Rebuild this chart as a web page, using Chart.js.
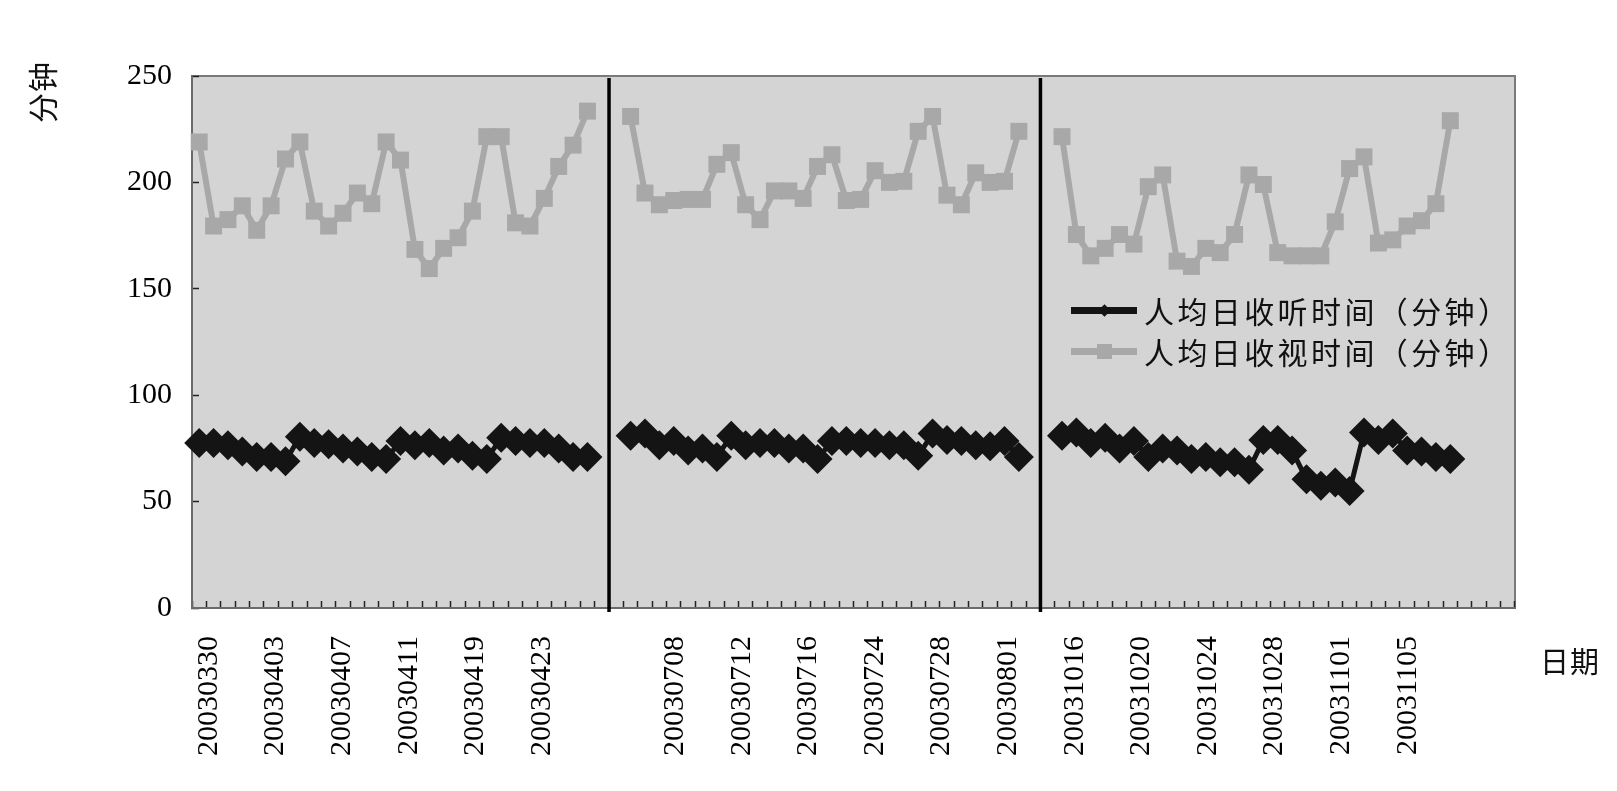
<!DOCTYPE html>
<html>
<head>
<meta charset="utf-8">
<script src="https://cdn.jsdelivr.net/npm/chart.js@4.4.1/dist/chart.umd.min.js"></script>
<style>
  body { margin: 0; background: #fff; }
  #wrap { position: relative; width: 1617px; height: 791px; }
  .cjk { position: absolute; font-family: "Noto Sans CJK SC", sans-serif; color: #111; white-space: nowrap; }
  #ytitle { left: 9px; top: 77px; width: 64px; height: 30px; line-height: 30px; font-size: 30px; text-align: center; letter-spacing: 1px; transform: rotate(-90deg); }
  #xtitle { left: 1540px; top: 642px; font-size: 29px; line-height: 36px; letter-spacing: 1px; }
  #legend { position: absolute; left: 1071px; top: 290px; }
  .lg-row { position: relative; height: 41px; width: 460px; }
  .lg-line { position: absolute; left: 0; top: 17px; width: 66px; height: 7px; }
  .lg-mark { position: absolute; left: 26px; top: 13px; width: 15px; height: 15px; }
  .lg-mark.rectRot { left: 29px; top: 16px; width: 9px; height: 9px; transform: rotate(45deg); }
  .lg-text { position: absolute; left: 73px; top: 0; line-height: 41px; font-size: 30px; letter-spacing: 3.4px; font-family: "Noto Sans CJK SC", sans-serif; color: #111; white-space: nowrap; }
</style>
</head>
<body>
<div id="wrap">
  <canvas id="chart" width="1617" height="791"></canvas>
  <div class="cjk" id="ytitle">分钟</div>
  <div class="cjk" id="xtitle">日期</div>
  <div id="legend"></div>
</div>
<script>
// three survey periods, 28 days each
const seg1Radio = [77.5, 77.5, 76.5, 73.5, 71, 71, 69, 80.5, 77.5, 77, 75, 73.5, 71, 70, 78.5, 76.5, 77.5, 74, 75, 71.5, 70, 80, 78.5, 77.5, 77.5, 75, 71, 71];
const seg1Tv    = [219, 179.5, 182.5, 189, 177.5, 189, 211, 219, 186.5, 179.5, 185.5, 195, 190, 219, 210.5, 168.5, 159.5, 169, 174, 186.5, 221.5, 221.5, 181, 179.5, 192.5, 207.5, 217.5, 233.5];
const seg2Radio = [81, 82, 76.5, 78.5, 74, 75, 71, 81, 76.5, 77.5, 77.5, 75, 75, 70, 78.5, 78.5, 77.5, 77.5, 76.5, 76.5, 71.5, 82, 79, 78.5, 76.5, 76, 78.5, 71];
const seg2Tv    = [231, 195, 189.5, 191.5, 192, 192, 208.5, 214, 189.5, 182.5, 196, 196, 192.5, 207.5, 213, 191.5, 192, 205.5, 200, 200.5, 224, 231, 194, 189.5, 204.5, 200, 200.5, 224];
const seg3Radio = [81, 82.5, 77.5, 80, 75, 78.5, 71, 75, 74, 70, 71, 68.5, 68.5, 65, 79, 79, 74, 60.5, 57.5, 59, 55, 82.5, 79, 82, 74, 73.5, 71, 70];
const seg3Tv    = [221.5, 175.5, 165.5, 169, 175.5, 171, 198, 203.5, 163, 160.5, 169, 167, 175.5, 203.5, 199, 167, 165.5, 165.5, 165.5, 181.5, 206.5, 212, 171.5, 173, 179.5, 182, 190, 229];

// category slots per period and empty slots before the first day
const segSlots = [29, 30, 33];
const segLead = [0, 1, 1];

const dateLabels = ['20030330', '20030403', '20030407', '20030411', '20030419', '20030423', '',
  '20030708', '20030712', '20030716', '20030724', '20030728', '20030801',
  '20031016', '20031020', '20031024', '20031028', '20031101', '20031105', ''];

const radioSegs = [seg1Radio, seg2Radio, seg3Radio];
const tvSegs = [seg1Tv, seg2Tv, seg3Tv];

const slotLabels = [], radio = [], tv = [], segStarts = [];
segSlots.forEach((n, s) => {
  segStarts.push(slotLabels.length);
  for (let i = 0; i < n; i++) {
    const k = i - segLead[s];
    slotLabels.push('s' + slotLabels.length);
    radio.push(k >= 0 && k < radioSegs[s].length ? radioSegs[s][k] : null);
    tv.push(k >= 0 && k < tvSegs[s].length ? tvSegs[s][k] : null);
  }
});

const numFont = { family: 'Liberation Serif', size: 30 };

const framePlugin = {
  id: 'frame',
  beforeDraw(chart) {
    const { ctx, chartArea: a } = chart;
    ctx.save();
    ctx.fillStyle = '#d4d4d4';
    ctx.fillRect(a.left, a.top, a.width, a.height);
    ctx.strokeStyle = '#7a7a7a';
    ctx.lineWidth = 2;
    ctx.strokeRect(a.left, a.top, a.width, a.height);
    ctx.restore();
  },
  beforeDatasetsDraw(chart) {
    const { ctx, chartArea: a } = chart;
    const x = chart.scales.x;
    ctx.save();
    ctx.strokeStyle = '#000';
    ctx.lineWidth = 3.5;
    segStarts.slice(1).forEach(i => {
      const px = (x.getPixelForValue(i - 1) + x.getPixelForValue(i)) / 2;
      ctx.beginPath();
      ctx.moveTo(px, a.top + 2);
      ctx.lineTo(px, a.bottom + 4);
      ctx.stroke();
    });
    ctx.restore();
  }
};

const chart = new Chart(document.getElementById('chart'), {
  type: 'line',
  data: {
    labels: slotLabels,
    datasets: [
      {
        label: '人均日收听时间（分钟）',
        data: radio,
        borderColor: '#141414',
        backgroundColor: '#141414',
        borderWidth: 5,
        pointStyle: 'rectRot',
        pointRadius: 15,
        pointBorderWidth: 0,
        pointBackgroundColor: '#141414'
      },
      {
        label: '人均日收视时间（分钟）',
        data: tv,
        borderColor: '#a8a8a8',
        backgroundColor: '#a8a8a8',
        borderWidth: 6,
        pointStyle: 'rect',
        pointRadius: 12,
        pointBorderWidth: 0,
        pointBackgroundColor: '#a8a8a8'
      }
    ]
  },
  options: {
    responsive: false,
    animation: false,
    devicePixelRatio: 1,
    layout: { padding: { left: 72, right: 102, top: 76, bottom: 33 } },
    plugins: { legend: { display: false }, tooltip: { enabled: false } },
    scales: {
      x: {
        type: 'category',
        offset: true,
        weight: 0,
        grid: { offset: true, drawOnChartArea: false, tickLength: -7, tickColor: '#222', tickWidth: 1.5 },
        border: { color: '#6a6a6a', width: 2 },
        ticks: { display: false },
        afterFit: s => { s.height = 0; }
      },
      x2: {
        type: 'linear',
        position: 'bottom',
        weight: 1,
        min: -0.255,
        max: 19.61,
        grid: { display: false, drawTicks: false },
        border: { display: false },
        ticks: {
          stepSize: 1,
          includeBounds: false,
          autoSkip: false,
          minRotation: 90,
          maxRotation: 90,
          padding: 28,
          color: '#000',
          font: numFont,
          callback: v => dateLabels[Math.round(v)] || ''
        },
        afterFit: s => { s.height = 150; }
      },
      y: {
        min: 0,
        max: 250,
        grid: { drawOnChartArea: false, tickLength: -7, tickColor: '#222', tickWidth: 1.5 },
        border: { color: '#6a6a6a', width: 2 },
        ticks: { stepSize: 50, padding: 27, color: '#000', font: numFont },
        afterFit: s => { s.width = 120; }
      }
    }
  },
  plugins: [framePlugin]
});

const legend = document.getElementById('legend');
chart.data.datasets.forEach(ds => {
  const row = document.createElement('div');
  row.className = 'lg-row';
  row.innerHTML = `<span class="lg-line" style="background:${ds.borderColor}"></span>` +
    `<span class="lg-mark ${ds.pointStyle}" style="background:${ds.borderColor}"></span>` +
    `<span class="lg-text">${ds.label}</span>`;
  legend.appendChild(row);
});
</script>
</body>
</html>
